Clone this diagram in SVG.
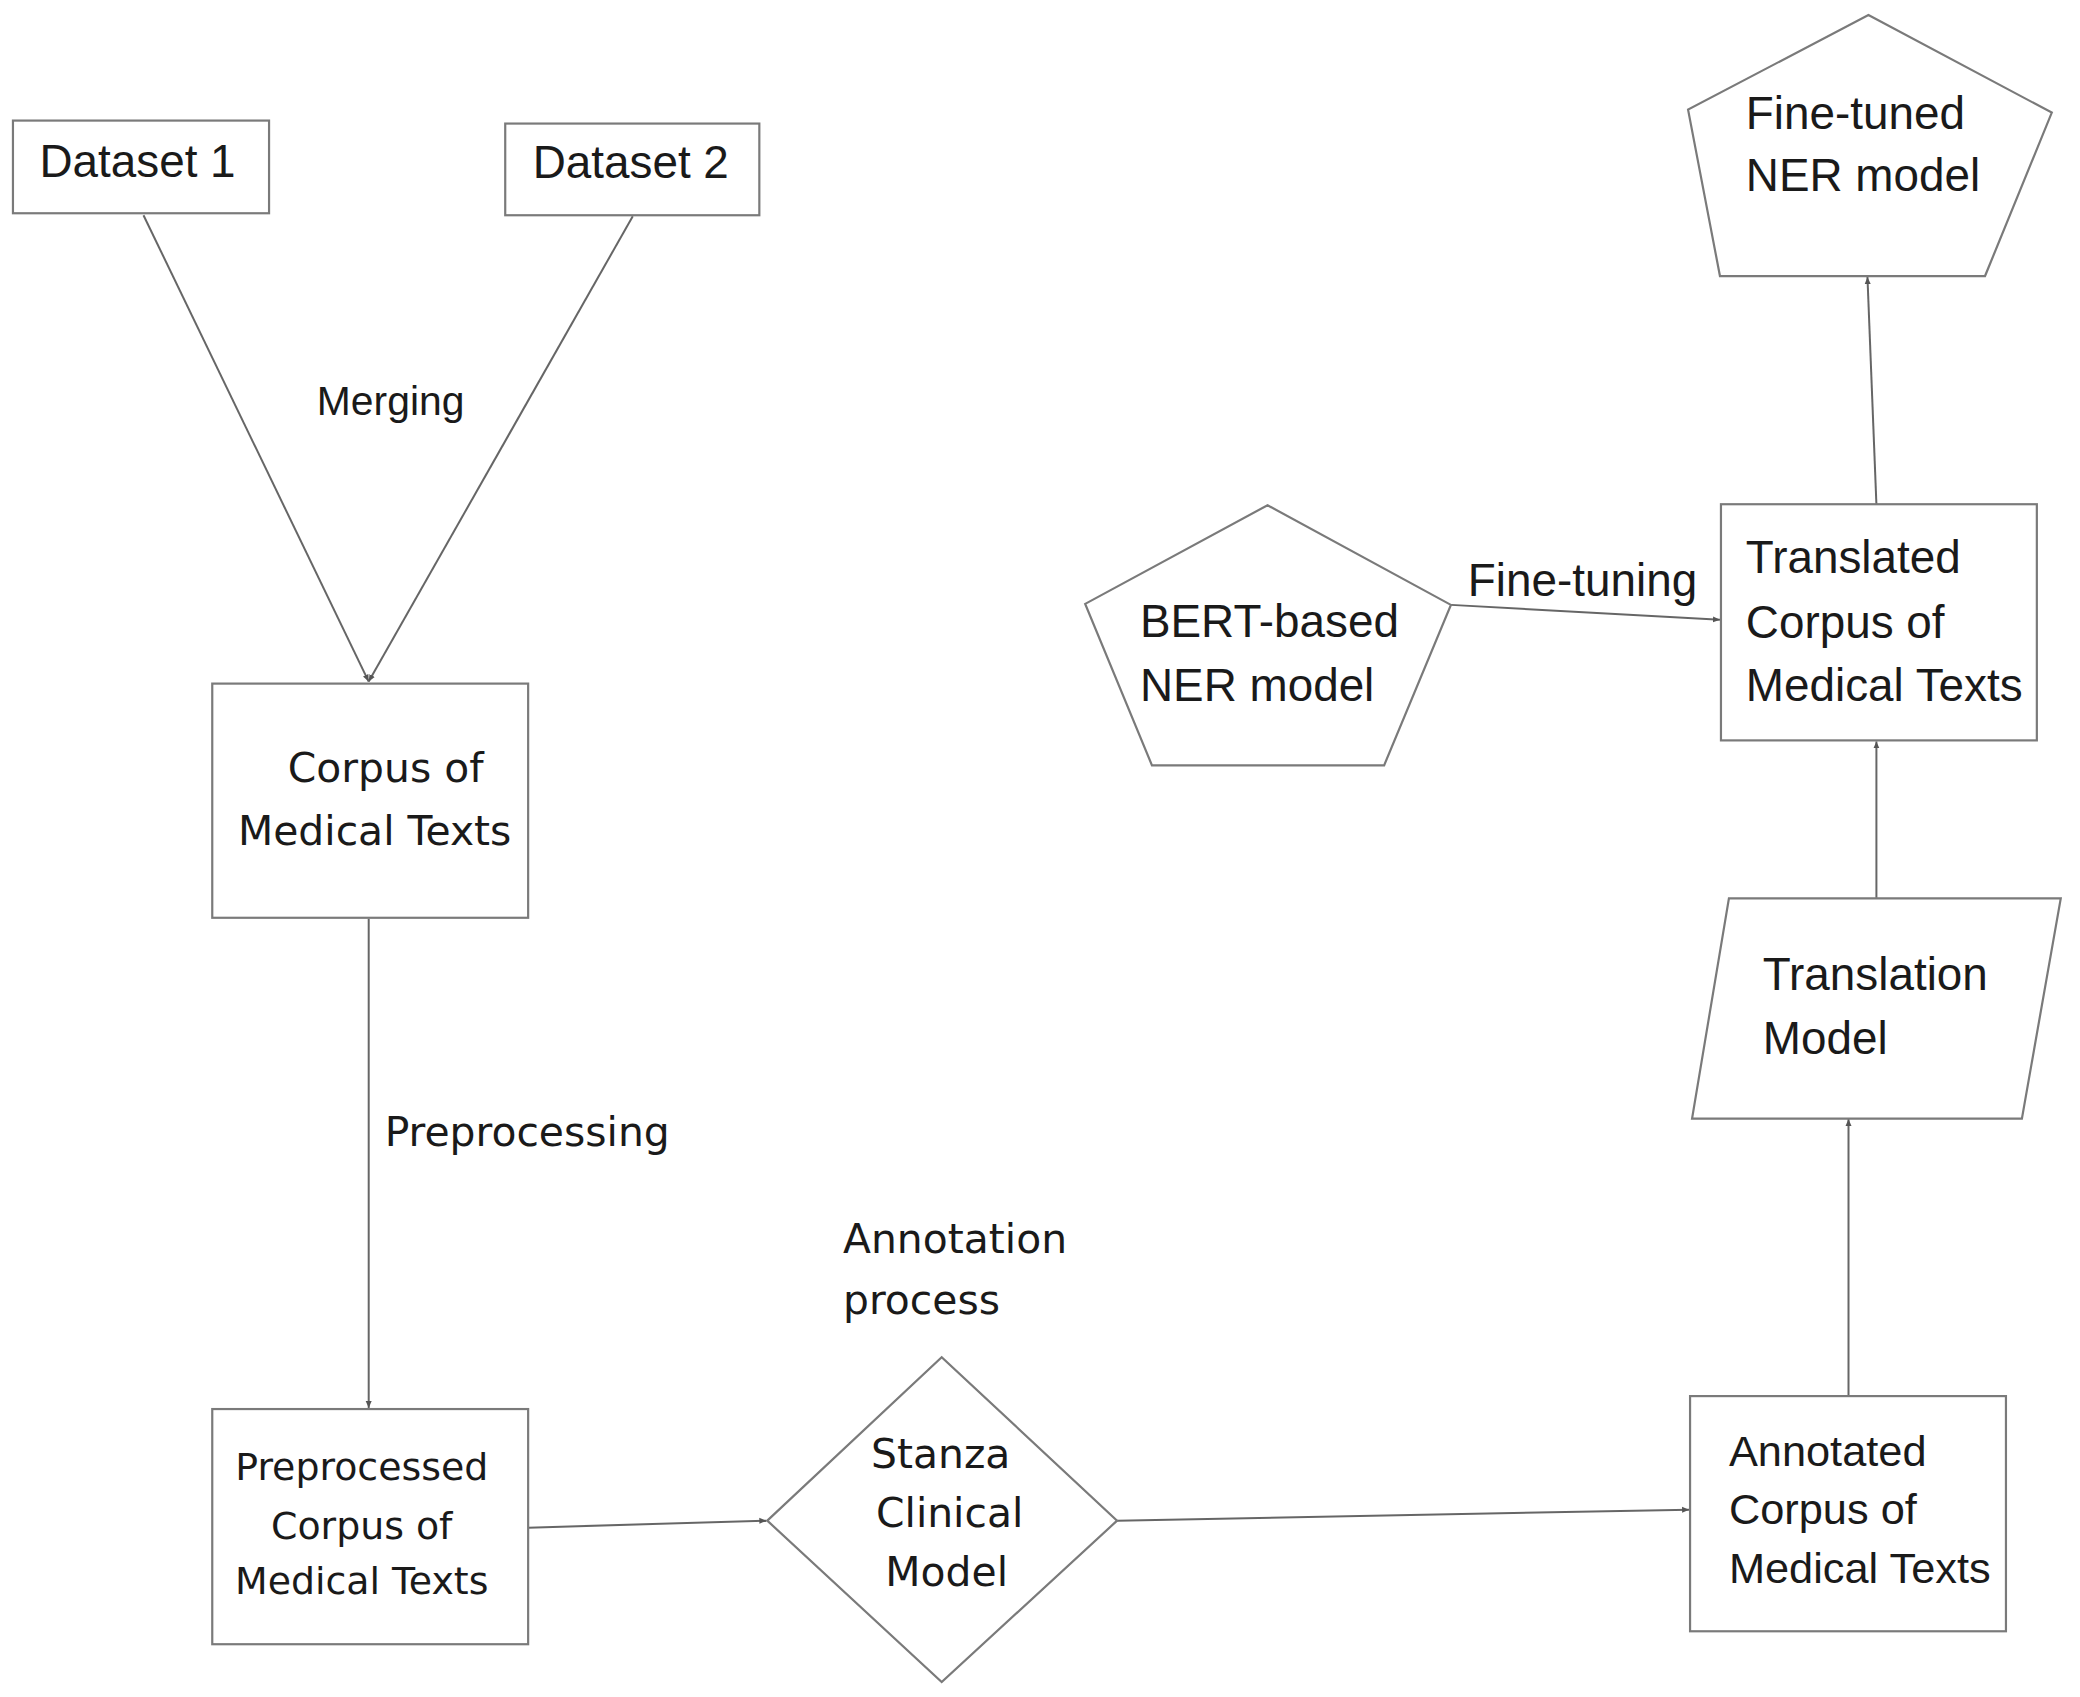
<svg xmlns="http://www.w3.org/2000/svg" width="2080" height="1697" viewBox="0 0 2080 1697">
<defs>
<marker id="ah" markerWidth="8" markerHeight="8" refX="7" refY="4" orient="auto" markerUnits="userSpaceOnUse">
<path d="M0,1 L7,4 L0,7 Z" fill="#555"/>
</marker>
<style>
.shape{fill:#fff;stroke:#7a7a7a;stroke-width:2.2}
.edge{fill:none;stroke:#666;stroke-width:2}
.c{font-family:"Liberation Sans",Arial,sans-serif;font-size:46px;fill:#1a1a1a}
.w{font-family:"DejaVu Sans",Verdana,sans-serif;font-size:41px;fill:#1a1a1a}
.m{text-anchor:middle}
.s38{font-size:38px}
.s41{font-size:41px}
.s43{font-size:43.5px}
</style>
</defs>
<rect width="2080" height="1697" fill="#fff"/>
<g id="diagram" transform="scale(0.9965)">
<g id="connectors">
<line class="edge" x1="144" y1="216" x2="370" y2="684" marker-end="url(#ah)"/>
<line class="edge" x1="635" y1="217" x2="370" y2="684" marker-end="url(#ah)"/>
<line class="edge" x1="370" y1="922" x2="370" y2="1413" marker-end="url(#ah)"/>
<line class="edge" x1="530" y1="1533" x2="769" y2="1526" marker-end="url(#ah)"/>
<line class="edge" x1="1121" y1="1526" x2="1695" y2="1515" marker-end="url(#ah)"/>
<line class="edge" x1="1855" y1="1401" x2="1855" y2="1123" marker-end="url(#ah)"/>
<line class="edge" x1="1883" y1="901" x2="1883" y2="744" marker-end="url(#ah)"/>
<line class="edge" x1="1883" y1="506" x2="1874" y2="278" marker-end="url(#ah)"/>
<line class="edge" x1="1456" y1="607" x2="1726" y2="622" marker-end="url(#ah)"/>
<text class="c m s41" x="392" y="416">Merging</text>
<text class="w" x="386" y="1150">Preprocessing</text>
<text class="w" x="846" y="1257">Annotation</text>
<text class="w" x="846" y="1319">process</text>
<text class="c" x="1473" y="598">Fine-tuning</text>
</g>

<g id="dataset1">
<rect class="shape" x="13" y="121" width="257" height="93"/>
<text class="c m" x="138" y="178">Dataset 1</text>
</g>

<g id="dataset2">
<rect class="shape" x="507" y="124" width="255" height="92"/>
<text class="c m" x="633" y="179">Dataset 2</text>
</g>

<g id="corpus">
<rect class="shape" x="213" y="686" width="317" height="235"/>
<text class="w m" x="387" y="785">Corpus of</text>
<text class="w m" x="376" y="848">Medical Texts</text>
</g>

<g id="preprocessed">
<rect class="shape" x="213" y="1414" width="317" height="236"/>
<text class="w m s38" x="363" y="1485">Preprocessed</text>
<text class="w m s38" x="363" y="1544">Corpus of</text>
<text class="w m s38" x="363" y="1600">Medical Texts</text>
</g>

<g id="stanza">
<polygon class="shape" points="770,1526 945,1362 1121,1526 945,1688"/>
<text class="w m" x="944" y="1473">Stanza</text>
<text class="w m" x="953" y="1532">Clinical</text>
<text class="w m" x="950" y="1592">Model</text>
</g>

<g id="annotated">
<rect class="shape" x="1696" y="1401" width="317" height="236"/>
<text class="c s43" x="1735" y="1471">Annotated</text>
<text class="c s43" x="1735" y="1529">Corpus of</text>
<text class="c s43" x="1735" y="1589">Medical Texts</text>
</g>

<g id="translation-model">
<polygon class="shape" points="1735,901.5 2068,901.5 2029,1122.5 1698,1122.5"/>
<text class="c" x="1769" y="993">Translation</text>
<text class="c" x="1769" y="1058">Model</text>
</g>

<g id="translated">
<rect class="shape" x="1727" y="506" width="317" height="237"/>
<text class="c" x="1752" y="575">Translated</text>
<text class="c" x="1752" y="640">Corpus of</text>
<text class="c" x="1752" y="703">Medical Texts</text>
</g>

<g id="finetuned">
<polygon class="shape" points="1875,15 2059,113 1992,277 1726,277 1694,110"/>
<text class="c" x="1752" y="129">Fine-tuned</text>
<text class="c" x="1752" y="192">NER model</text>
</g>

<g id="bert">
<polygon class="shape" points="1272,507 1456,607 1389,768 1156,768 1089,606"/>
<text class="c" x="1144" y="639">BERT-based</text>
<text class="c" x="1144" y="703">NER model</text>
</g>
</g>
</svg>
